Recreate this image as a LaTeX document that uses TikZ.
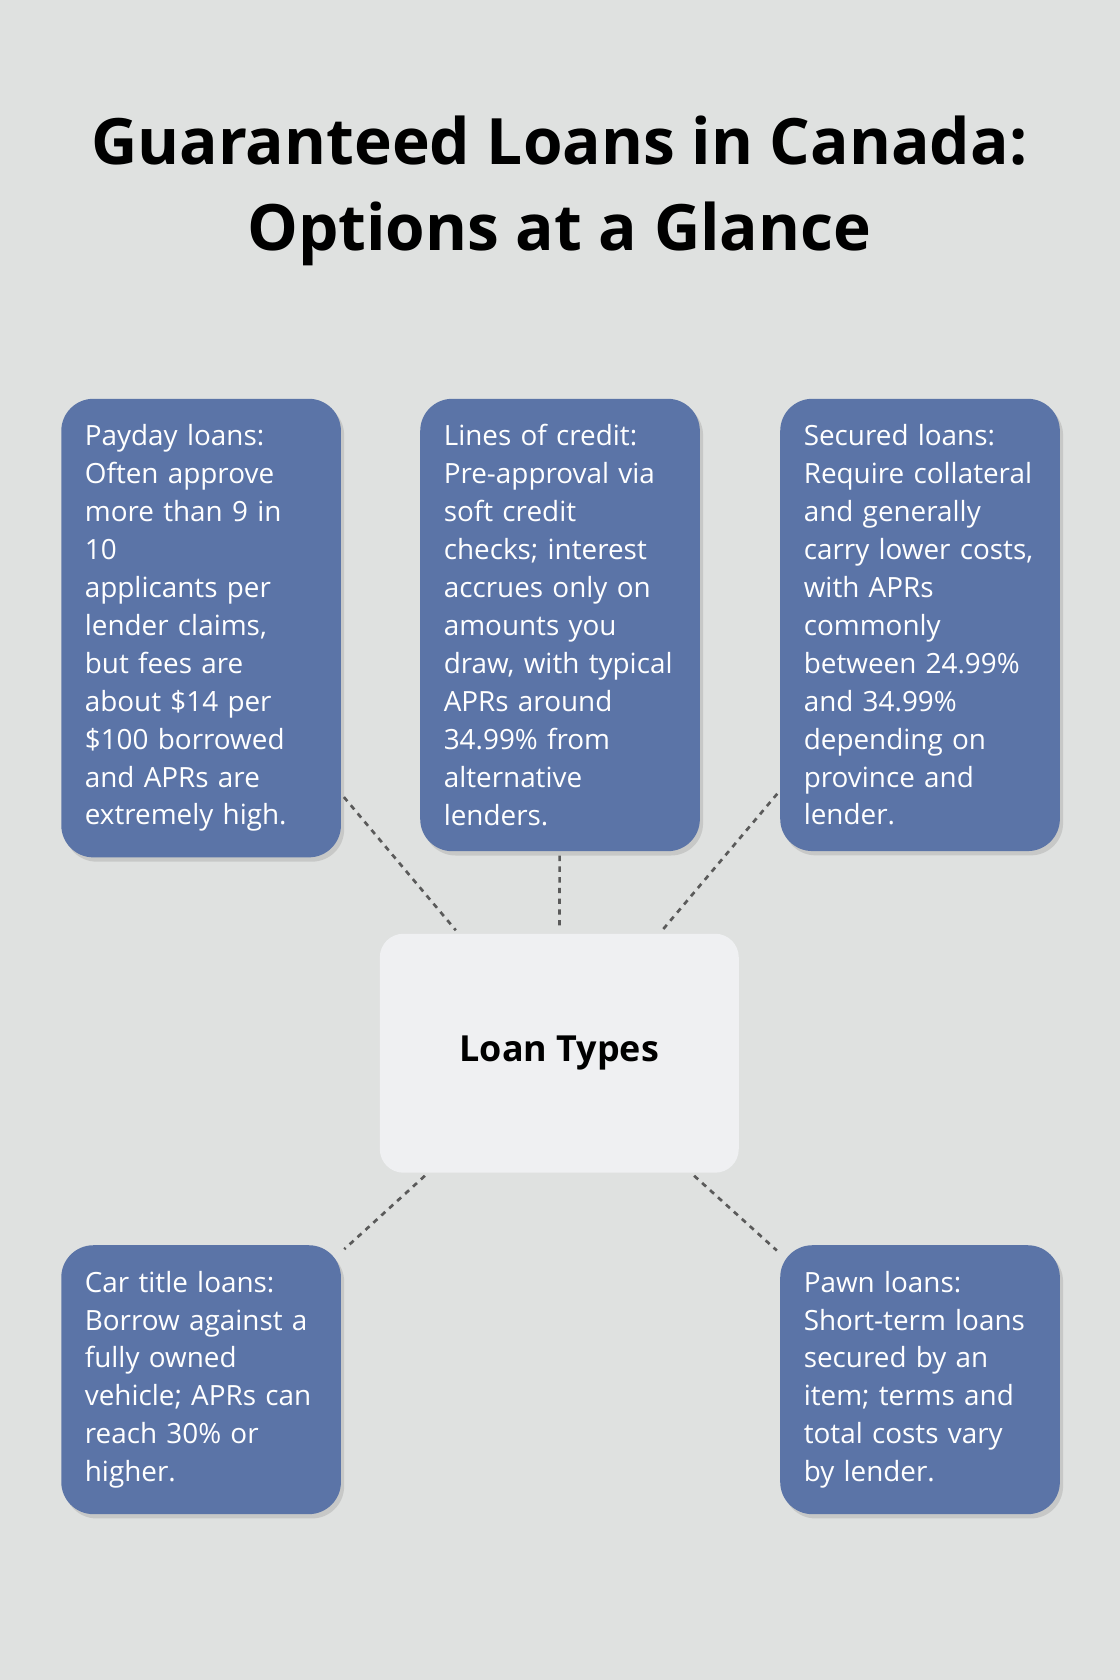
\documentclass[tikz,border=0pt]{standalone}
\usepackage{fontspec}
\setmainfont{Open Sans}
\usetikzlibrary{positioning}
\usetikzlibrary{shadows}
\definecolor{pagebg}{HTML}{DFE1E0}
\definecolor{boxblue}{HTML}{5B74A7}
\definecolor{hubfill}{HTML}{EFF0F2}
\definecolor{linkgray}{HTML}{5A5A5A}
\tikzset{
  loanbox/.style={draw=none, fill=boxblue, rounded corners=30pt, text=white,
    inner xsep=22pt, inner ysep=24pt, text width=217pt, align=left, anchor=north west,
    font=\fontsize{26}{35.4}\selectfont,
    drop shadow={shadow xshift=3pt, shadow yshift=-4pt, opacity=0.25}},
  hubbox/.style={fill=hubfill, rounded corners=22pt, minimum width=335pt,
    minimum height=223pt, font=\fontsize{33.5}{40}\selectfont\bfseries},
  link/.style={draw=linkgray, line width=2.5pt, dash pattern=on 5pt off 5pt,
    shorten <=4pt, shorten >=4pt}
}
\begin{document}
\begin{tikzpicture}[x=1pt, y=-1pt]
  \fill[pagebg] (0,0) rectangle (1045,1568);
  \useasboundingbox (0,0) rectangle (1045,1568);

  \node[font=\fontsize{59.7}{80}\selectfont\bfseries, align=center] (title) at (522,178)
    {Guaranteed Loans in Canada:\\Options at a Glance};

  \node[loanbox] (payday) at (57,372) {Payday loans:\\Often approve\\more than 9 in 10\\applicants per\\lender claims,\\but fees are\\about \$14 per\\\$100 borrowed\\and APRs are\\extremely high.};
  \node[loanbox] (credit) at (392,372) {Lines of credit:\\Pre-approval via\\soft credit\\checks; interest\\accrues only on\\amounts you\\draw, with typical\\APRs around\\34.99\% from\\alternative\\lenders.};
  \node[loanbox] (secured) at (728,372) {Secured loans:\\Require collateral\\and generally\\carry lower costs,\\with APRs\\commonly\\between 24.99\%\\and 34.99\%\\depending on\\province and\\lender.};
  \node[loanbox] (cartitle) at (57,1162) {Car title loans:\\Borrow against a\\fully owned\\vehicle; APRs can\\reach 30\% or\\higher.};
  \node[loanbox] (pawn) at (728,1162) {Pawn loans:\\Short-term loans\\secured by an\\item; terms and\\total costs vary\\by lender.};

  \node[hubbox] (hub) at (522,983) {Loan Types};

  \draw[link] (payday) -- (hub);
  \draw[link] (credit) -- (hub);
  \draw[link] (secured) -- (hub);
  \draw[link] (hub) -- (cartitle);
  \draw[link] (hub) -- (pawn);
\end{tikzpicture}
\end{document}
